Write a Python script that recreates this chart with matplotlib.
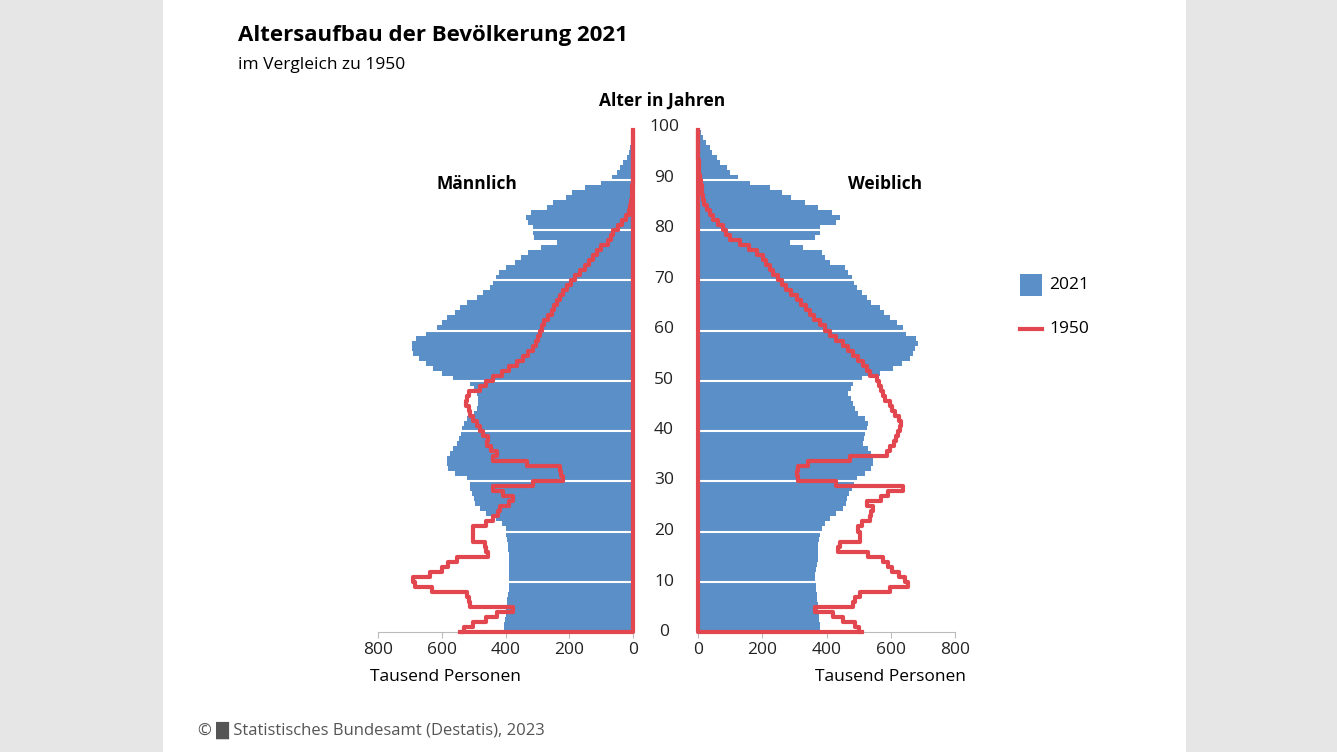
import matplotlib
matplotlib.use("Agg")
import matplotlib.pyplot as plt
import numpy as np
from matplotlib.patches import Rectangle
from matplotlib.lines import Line2D

ages = list(range(100))
male_2021 = [405,405,402,400,398,396,394,392,390,390,
             388,388,388,388,390,390,392,392,395,398,
             400,410,430,460,480,495,500,505,510,510,
             520,560,580,585,585,575,565,553,545,540,
             536,530,520,500,490,485,485,490,500,510,
             565,600,628,650,670,690,694,694,680,650,
             616,600,585,560,543,520,490,470,449,440,
             430,420,400,370,350,330,290,240,310,315,
             315,330,335,320,270,250,210,190,150,100,
             66,50,40,30,20,12,8,5,3,1]
female_2021 = [380,380,378,376,372,372,370,370,368,368,
               365,365,368,370,372,372,375,375,378,380,
               385,395,412,430,452,460,465,470,480,485,
               494,520,540,545,545,540,530,514,518,520,
               525,530,520,498,490,483,475,467,475,483,
               509,566,607,635,660,670,675,685,680,648,
               638,620,597,580,566,540,525,510,494,485,
               478,468,457,410,395,385,328,286,364,379,
               379,431,441,416,374,333,290,260,224,162,
               125,100,89,70,58,45,37,25,16,8]
male_1950 = [543,530,502,460,428,376,512,515,522,631,
             684,690,637,600,580,553,455,460,465,502,
             502,502,460,440,425,418,390,377,408,440,
             314,220,225,230,333,440,428,445,459,455,
             470,480,490,502,510,513,523,520,513,480,
             460,440,410,390,365,345,330,314,305,298,
             292,285,278,268,255,247,238,228,220,208,
             195,182,165,150,138,125,113,100,80,68,
             62,48,35,22,14,9,6,4,3,2,
             1,1,1,1,1,0,0,0,0,0]
female_1950 = [509,500,489,452,420,364,483,490,504,597,
               654,645,625,605,590,576,530,436,441,504,
               504,498,510,535,540,545,525,571,590,638,
               431,312,307,310,343,472,587,597,610,617,
               622,628,633,625,613,605,597,582,575,571,
               562,556,535,525,514,498,483,468,452,430,
               410,395,380,360,348,335,320,307,290,275,
               262,248,234,224,213,203,185,160,130,100,
               88,79,62,47,37,27,20,16,13,11,
               8,6,4,3,2,1,1,1,0,0]
xticks = [0, 200, 400, 600, 800]
yticks = list(range(0, 101, 10))

BLUE = "#5b8fc7"
RED = "#e2474f"
plt.rcParams['font.family'] = ['Open Sans', 'DejaVu Sans']

W, H = 1337, 752
fig = plt.figure(figsize=(W/100, H/100), dpi=100, facecolor="#e6e6e6")
fig.patches.append(Rectangle((163/W, 0), (1186-163)/W, 1, transform=fig.transFigure,
                             facecolor="white", zorder=-10))

bottom = 1 - 632/H
height = 505/H
axL = fig.add_axes([378/W, bottom, 255/W, height])
axR = fig.add_axes([698/W, bottom, 257/W, height])

def draw(ax, v2021, v1950):
    ax.barh(ages, v2021, height=1.0, align='edge', color=BLUE, linewidth=0, zorder=1)
    for y in range(10, 100, 10):
        ax.axhline(y, color="white", lw=1.5, zorder=2)
    ys = np.array(ages + [100])
    xs = np.array(v1950 + [0])
    ax.step(xs, ys, where='post', color=RED, lw=3, zorder=3, clip_on=False)
    ax.plot([0, 0, v1950[0]], [100, 0, 0], color=RED, lw=3, zorder=3, clip_on=False,
            solid_capstyle='butt')
    ax.set_xlim(0, 800)
    ax.set_ylim(0, 100.5)
    ax.set_xticks(xticks)
    ax.set_xticklabels([str(t) for t in xticks], fontsize=12.5)
    ax.set_yticks([])
    for s in ['top', 'left', 'right']:
        ax.spines[s].set_visible(False)
    ax.spines['bottom'].set_color("#bbbbbb")
    ax.tick_params(axis='x', colors="#bbbbbb", labelcolor="#222222", length=4)
    ax.patch.set_visible(False)

draw(axL, male_2021, male_1950)
draw(axR, female_2021, female_1950)
axL.invert_xaxis()

for a in yticks:
    y = (632 - a*5.05)
    fig.text(664/W, 1 - y/H, str(a), ha='center', va='center', fontsize=12.5, color="#222222")

fig.text(662/W, 1-101/H, "Alter in Jahren", ha='center', va='center', fontsize=12.5, weight='bold')
fig.text(477/W, 1-184/H, "Männlich", ha='center', va='center', fontsize=12.5, weight='bold')
fig.text(885/W, 1-184/H, "Weiblich", ha='center', va='center', fontsize=12.5, weight='bold')
fig.text(238/W, 1-35/H, "Altersaufbau der Bevölkerung 2021", ha='left', va='center', fontsize=16, weight='bold')
fig.text(238/W, 1-65/H, "im Vergleich zu 1950", ha='left', va='center', fontsize=12.5)
fig.text(445/W, 1-677/H, "Tausend Personen", ha='center', va='center', fontsize=12.5)
fig.text(890/W, 1-677/H, "Tausend Personen", ha='center', va='center', fontsize=12.5)
fig.text(198/W, 1-730/H, "© \u2588 Statistisches Bundesamt (Destatis), 2023", ha='left', va='center',
         fontsize=12, color="#555555")

fig.patches.append(Rectangle((1020/W, 1-296/H), 22/W, 22/H, transform=fig.transFigure,
                             facecolor=BLUE, zorder=3))
fig.text(1049/W, 1-285/H, "2021", ha='left', va='center', fontsize=12.5)
fig.lines.append(Line2D([1020/W, 1042/W], [1-329/H, 1-329/H], transform=fig.transFigure,
                        color=RED, lw=3))
fig.text(1049/W, 1-329/H, "1950", ha='left', va='center', fontsize=12.5)

fig.savefig("out.png", dpi=100, facecolor=fig.get_facecolor())
